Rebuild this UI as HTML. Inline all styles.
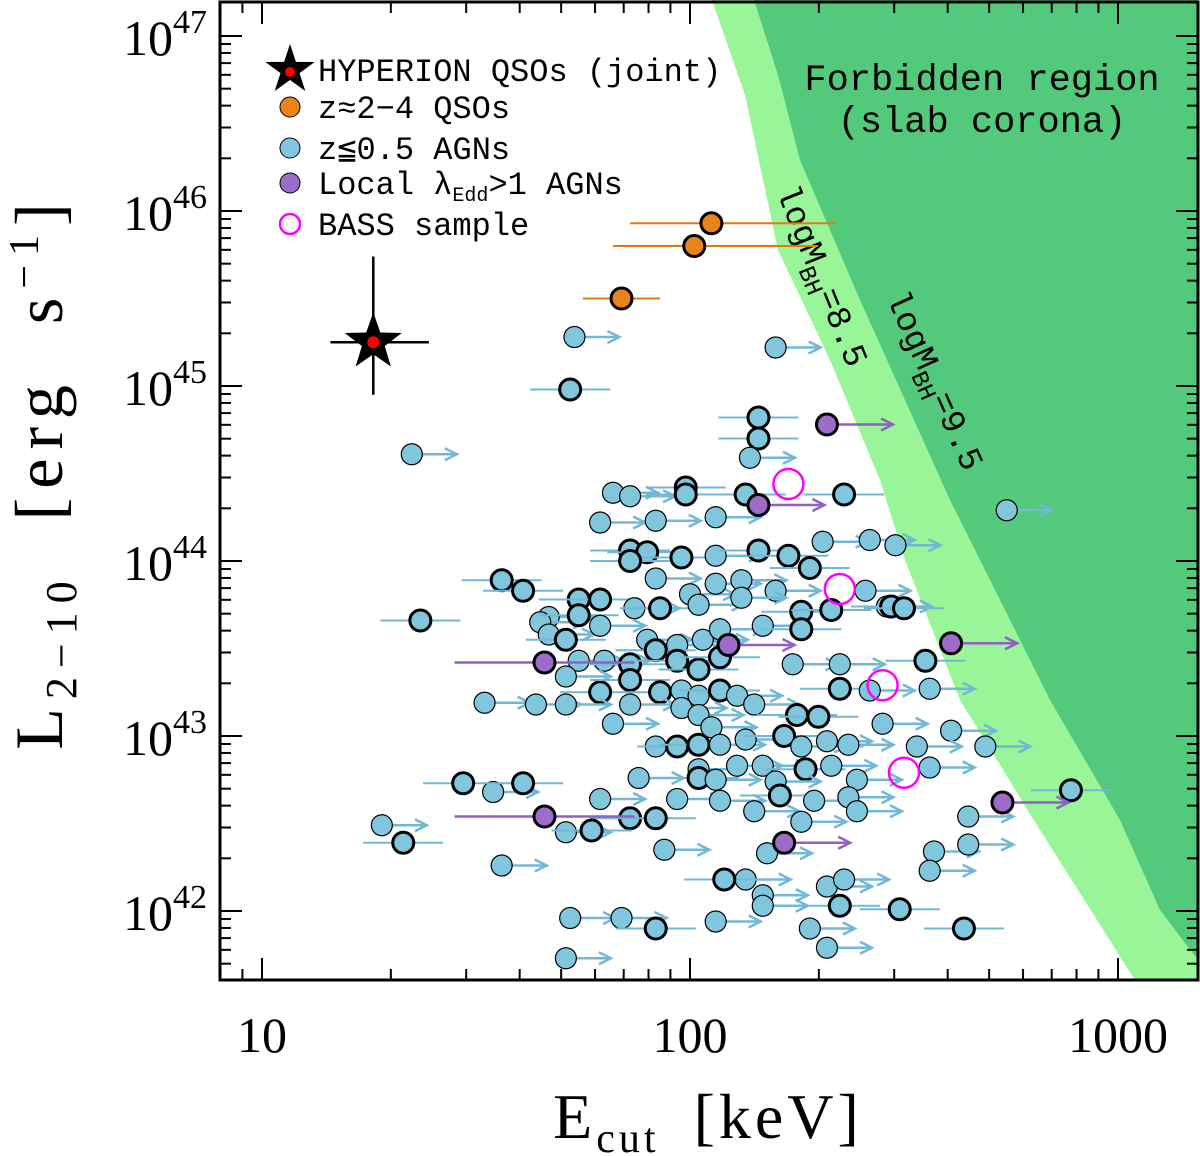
<!DOCTYPE html>
<html><head><meta charset="utf-8">
<style>
html,body{margin:0;padding:0;background:#fff;}
svg{display:block;}
</style></head>
<body>
<svg id="chart" width="1200" height="1156" viewBox="0 0 1200 1156" xmlns="http://www.w3.org/2000/svg">
</svg>
<script>
// ---- data (log10 Ecut [keV], log10 L2-10 [erg/s]) ----
const agnLogE = [1.73,1.35,2.74,1.72,2.20,2.16,2.16,2.14,1.82,1.86,1.99,1.99,2.13,2.36,1.79,1.92,2.06,2.31,1.86,1.90,1.98,2.06,2.16,2.23,2.42,2.48,2.28,1.56,1.61,1.86,1.92,2.00,2.06,2.12,2.20,2.41,1.37,1.67,1.74,1.79,1.87,1.93,2.02,2.12,2.26,2.33,2.46,2.47,2.50,1.65,1.67,1.71,1.74,1.79,1.90,1.97,2.03,2.07,2.17,2.26,1.74,1.80,1.86,1.92,1.97,2.02,2.07,2.24,2.35,2.55,1.71,1.79,1.86,1.93,1.98,2.02,2.07,2.11,2.35,2.42,2.56,1.52,1.64,1.71,1.82,1.86,1.98,2.02,2.05,2.15,2.25,2.30,2.45,2.61,1.92,1.97,2.02,2.07,2.13,2.22,2.26,2.32,2.37,2.53,2.69,2.02,2.11,2.17,2.27,2.33,2.39,2.56,1.88,2.02,2.06,2.20,2.21,1.47,1.54,1.61,2.89,1.79,1.97,2.07,2.15,2.29,2.37,2.39,2.65,1.86,1.92,1.71,1.77,2.26,1.28,1.33,1.56,1.94,2.18,2.57,2.65,2.13,2.08,2.56,2.32,2.17,2.36,2.17,2.35,2.49,1.72,1.84,2.06,1.92,2.28,2.64,1.71,2.32];
const agnLogL = [45.28,44.61,44.29,44.98,45.22,44.82,44.70,44.59,44.39,44.37,44.42,44.38,44.38,44.38,44.22,44.23,44.25,44.11,44.06,44.05,44.02,44.03,44.06,44.03,44.12,44.09,43.96,43.89,43.83,44.00,43.90,43.81,43.87,43.89,43.83,43.83,43.66,43.68,43.78,43.78,43.73,43.73,43.75,43.79,43.71,43.72,43.74,43.74,43.73,43.65,43.58,43.55,43.69,43.63,43.55,43.52,43.55,43.61,43.63,43.61,43.43,43.43,43.41,43.49,43.43,43.38,43.45,43.41,43.41,43.43,43.34,43.25,43.32,43.25,43.26,43.23,43.26,43.23,43.27,43.26,43.27,43.19,43.18,43.18,43.07,43.18,43.16,43.12,43.05,43.18,43.12,43.11,43.07,43.03,42.94,42.94,42.95,42.95,42.98,43.00,42.94,42.97,42.95,42.94,42.94,42.81,42.83,42.83,42.81,42.83,42.75,42.82,42.76,42.76,42.75,42.74,42.66,42.73,42.68,42.73,42.69,42.64,42.64,42.63,42.57,42.63,42.65,42.57,42.54,42.53,42.53,42.45,42.46,42.51,42.49,42.39,42.26,42.35,42.33,42.34,42.38,42.18,42.18,42.23,42.14,42.09,42.18,42.03,42.03,42.01,41.96,41.96,41.94,41.90,41.90,41.90,41.73,41.79];
const agnIsLimit = [1,1,1,0,1,0,0,1,1,1,0,0,0,0,1,1,1,1,0,0,0,1,0,0,1,1,0,0,0,0,1,1,1,1,1,1,0,1,0,0,1,0,1,1,0,0,1,0,0,1,1,0,0,1,1,1,1,1,1,0,1,1,0,0,0,0,0,1,1,0,1,0,0,0,1,1,0,1,0,1,1,1,1,1,1,1,1,1,1,1,0,0,1,1,1,0,0,1,1,0,1,1,1,1,1,1,1,1,0,1,1,1,1,0,1,1,0,0,1,0,0,1,1,1,1,1,1,1,1,0,0,1,0,1,1,0,1,1,1,1,1,1,0,1,1,1,1,1,0,0,1,1,1,0,1,0,1,1];
const eddLogE = [2.32,2.16,2.09,1.66,2.61,2.73,1.66,2.22];
const eddLogL = [44.78,44.32,43.52,43.42,43.53,42.62,42.54,42.39];
const eddIsLimit = [1,1,1,0,1,1,0,1];
const qsoLogE = [2.05,2.01,1.84];
const qsoLogL = [45.93,45.80,45.50];
const qsoLoE = [1.86,1.82,1.75];
const qsoHiE = [2.34,2.30,1.93];
const bassLogE = [2.23,2.35,2.45,2.50];
const bassLogL = [44.44,43.84,43.29,42.79];
const hypLogE = [1.26], hypLogL = [45.25], hypLoE=[1.16], hypHiE=[1.39], hypLoL=[44.95], hypHiL=[45.74];
const xTickVals = [10,100,1000];
const xTickLabels = ["10","100","1000"];
const yTickExps = [42,43,44,45,46,47];

// ---- axes ----
const L=220,R=1198,T=2,B=980;
const xs = le => 262 + 428*(le-1);
const ys = ll => 36 + 175*(47-ll);
const NS="http://www.w3.org/2000/svg";
const svg=document.getElementById('chart');
function mk(tag,attrs,parent){const e=document.createElementNS(NS,tag);for(const k in attrs)e.setAttribute(k,attrs[k]);(parent||svg).appendChild(e);return e;}

// forbidden regions
const gLight=mk('polygon',{points:"712,0 745,95 778,250 830,360 880,480 905,560 960,700 1040,830 1135,980 1198,980 1198,0",fill:"#98f598"});


const gDark=mk('polygon',{points:"754,0 778,75 800,160 860,300 905,400 950,500 990,580 1050,700 1120,820 1160,910 1198,960 1198,0",fill:"#52c97b"});



function txt(x,y,s,attrs,name){const t=mk('text',Object.assign({x:x,y:y},attrs));t.innerHTML=s;return t;}
const mono='font-family:"Liberation Mono",monospace;';
txt(982,90,"Forbidden region",{style:mono+"font-size:37px;","text-anchor":"middle"},"forbidden-title");
txt(982,132,"(slab corona)",{style:mono+"font-size:37px;","text-anchor":"middle"},"forbidden-subtitle");
txt(0,0,'logM<tspan font-size="24" dy="9">BH</tspan><tspan dy="-9">=8.5</tspan>',{style:mono+"font-size:34px;","text-anchor":"middle",transform:"translate(812,280) rotate(68)"},"mbh-8-5-label");
txt(0,0,'logM<tspan font-size="24" dy="9">BH</tspan><tspan dy="-9">=9.5</tspan>',{style:mono+"font-size:34px;","text-anchor":"middle",transform:"translate(925,385) rotate(66)"},"mbh-9-5-label");

// AGN points
const lineBlue="#72b8d6", fillBlue="#80c6dc";
for(let i=0;i<agnLogE.length;i++){
  const x=xs(agnLogE[i]),y=ys(agnLogL[i]);
  const g=mk('g',{});
  
  
  if(agnIsLimit[i]){
    mk('line',{x1:x,y1:y,x2:x+45,y2:y,stroke:lineBlue,"stroke-width":2.5},g);
    mk('polyline',{points:`${x+33},${y-6} ${x+45},${y} ${x+33},${y+6}`,fill:"none",stroke:lineBlue,"stroke-width":2.5},g);
    mk('circle',{cx:x,cy:y,r:10.5,fill:fillBlue,stroke:"#000","stroke-width":1.2},g);
  } else {
    mk('line',{x1:x-40,y1:y,x2:x+40,y2:y,stroke:lineBlue,"stroke-width":2},g);
    mk('circle',{cx:x,cy:y,r:10.5,fill:fillBlue,stroke:"#000","stroke-width":3},g);
  }
}
// super-Eddington
for(let i=0;i<eddLogE.length;i++){
  const x=xs(eddLogE[i]),y=ys(eddLogL[i]);
  const g=mk('g',{});
  
  
  if(eddIsLimit[i]){
    mk('line',{x1:x,y1:y,x2:x+66,y2:y,stroke:"#9061c2","stroke-width":2.5},g);
    mk('polyline',{points:`${x+54},${y-6} ${x+66},${y} ${x+54},${y+6}`,fill:"none",stroke:"#9061c2","stroke-width":2.5},g);
  } else {
    mk('line',{x1:x-90,y1:y,x2:x+90,y2:y,stroke:"#9061c2","stroke-width":2.5},g);
  }
  mk('circle',{cx:x,cy:y,r:10.5,fill:"#9d6cc8",stroke:"#000","stroke-width":3},g);
}
// QSOs
for(let i=0;i<qsoLogE.length;i++){
  const x=xs(qsoLogE[i]),y=ys(qsoLogL[i]);
  const g=mk('g',{});
  
  
  mk('line',{x1:xs(qsoLoE[i]),y1:y,x2:xs(qsoHiE[i]),y2:y,stroke:"#e07b10","stroke-width":2},g);
  mk('circle',{cx:x,cy:y,r:10.5,fill:"#e88418",stroke:"#000","stroke-width":3},g);
}
// BASS
for(let i=0;i<bassLogE.length;i++){
  const c=mk('circle',{cx:xs(bassLogE[i]),cy:ys(bassLogL[i]),r:15,fill:"none",stroke:"#ff00ff","stroke-width":2.5});
  
  
}
function star(cx,cy,ro,ri){let p=[];for(let k=0;k<10;k++){const r=k%2?ri:ro;const a=-Math.PI/2+k*Math.PI/5;p.push((cx+r*Math.cos(a)).toFixed(1)+','+(cy+r*Math.sin(a)).toFixed(1));}return p.join(' ');}
{
  const x=xs(hypLogE[0]),y=ys(hypLogL[0]);
  const g=mk('g',{});
  
  
  mk('line',{x1:xs(hypLoE[0]),y1:y,x2:xs(hypHiE[0]),y2:y,stroke:"#000","stroke-width":2.5},g);
  mk('line',{x1:x,y1:ys(hypHiL[0]),x2:x,y2:ys(hypLoL[0]),stroke:"#000","stroke-width":2.5},g);
  mk('polygon',{points:star(x,y,30,12),fill:"#000"},g);
  mk('circle',{cx:x,cy:y,r:6,fill:"#ff0000"},g);
}

// legend
const lg=mk('g',{});


mk('polygon',{points:star(290,70,26,10),fill:"#000"},lg);
mk('circle',{cx:290,cy:72,r:5,fill:"#ff0000"},lg);
mk('circle',{cx:290,cy:107,r:10,fill:"#e88418",stroke:"#000","stroke-width":1},lg);
mk('circle',{cx:290,cy:148,r:10,fill:fillBlue,stroke:"#000","stroke-width":1},lg);
mk('circle',{cx:290,cy:183,r:10,fill:"#9d6cc8",stroke:"#000","stroke-width":1},lg);
mk('circle',{cx:290,cy:224,r:10,fill:"none",stroke:"#ff00ff","stroke-width":2.5},lg);
const ls=mono+"font-size:32px;";
txt(318,81,"HYPERION QSOs (joint)",{style:ls},"legend-hyperion");
txt(318,118,"z≈2−4 QSOs",{style:ls},"legend-qsos");
txt(318,159,"z≦0.5 AGNs",{style:ls},"legend-agns");
txt(318,194,'Local λ<tspan font-size="20" dy="7">Edd</tspan><tspan dy="-7">&gt;1 AGNs</tspan>',{style:ls},"legend-local-edd");
txt(318,235,"BASS sample",{style:ls},"legend-bass");

// frame
const fr=mk('rect',{x:L,y:T,width:R-L,height:B-T,fill:"none",stroke:"#000","stroke-width":3});


// ticks
const tk=mk('g',{stroke:"#000","stroke-width":2});


for(let d=0;d<=3;d++){for(let m=1;m<10;m++){const v=Math.pow(10,d)*m;const le=Math.log10(v);const x=xs(le);if(x<L||x>R)continue;const len=m===1?22:11;
  mk('line',{x1:x,y1:B,x2:x,y2:B-len},tk);mk('line',{x1:x,y1:T,x2:x,y2:T+len},tk);}}
for(let d=41;d<=47;d++){for(let m=1;m<10;m++){const le=d+Math.log10(m);const y=ys(le);if(y<T||y>B)continue;const len=m===1?22:11;
  mk('line',{x1:L,y1:y,x2:L+len,y2:y},tk);mk('line',{x1:R,y1:y,x2:R-len,y2:y},tk);}}
const serif='font-family:"Liberation Serif",serif;';
xTickVals.forEach((v,i)=>{txt(xs(Math.log10(v)),1052,xTickLabels[i],{style:serif+"font-size:50px;","text-anchor":"middle"},"x-tick-label");});
yTickExps.forEach(e=>{txt(207,ys(e)+19,'10<tspan font-size="34" dy="-22">'+e+'</tspan>',{style:serif+"font-size:50px;","text-anchor":"end"},"y-tick-label");});
txt(708,1138,'E<tspan font-size="42" dy="14">cut</tspan><tspan dy="-14"> [keV]</tspan>',{style:serif+"font-size:64px;letter-spacing:4px;word-spacing:14px;","text-anchor":"middle"},"x-axis-title");
txt(0,0,'L<tspan font-size="44" dy="14">2−10</tspan><tspan dy="-14"> [erg s</tspan><tspan font-size="42" dy="-24">−1</tspan><tspan dy="24">]</tspan>',{style:serif+"font-size:68px;letter-spacing:9px;word-spacing:26px;","text-anchor":"middle",transform:"translate(62,472) rotate(-90)"},"y-axis-title");
</script>
</body></html>
